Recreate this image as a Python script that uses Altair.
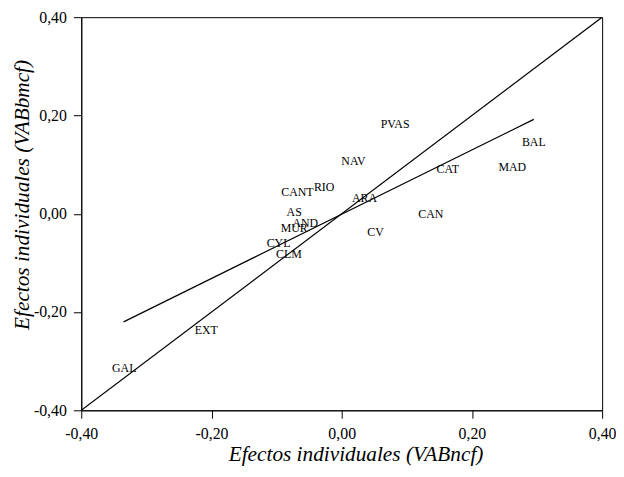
import altair as alt
import pandas as pd

regions = ["PVAS", "BAL", "MAD", "CAT", "NAV", "RIO", "CANT", "ARA", "AS", "CAN",
           "AND", "MUR", "CV", "CYL", "CLM", "EXT", "GAL"]
x_vals = [0.082, 0.295, 0.262, 0.163, 0.018, -0.027, -0.068, 0.035, -0.073, 0.137,
          -0.056, -0.073, 0.052, -0.097, -0.081, -0.208, -0.334]
y_vals = [0.182, 0.146, 0.096, 0.090, 0.108, 0.055, 0.045, 0.031, 0.003, -0.001,
          -0.019, -0.029, -0.037, -0.059, -0.082, -0.237, -0.313]

diag_x = [-0.40, 0.40]
diag_y = [-0.40, 0.40]
reg_x = [-0.335, 0.295]
reg_y = [-0.220, 0.192]

ticks = [-0.40, -0.20, 0.00, 0.20, 0.40]

pts = pd.DataFrame({"region": regions, "x": x_vals, "y": y_vals})
lines = pd.DataFrame({
    "x": diag_x + reg_x,
    "y": diag_y + reg_y,
    "line": ["diag", "diag", "reg", "reg"],
})

font = "Liberation Serif"
lab_expr = "replace(replace(format(datum.value, '.2f'), '.', ','), '\u2212', '-')"

xs = alt.Scale(domain=[-0.4, 0.4], nice=False, zero=False)
ys = alt.Scale(domain=[-0.4, 0.4], nice=False, zero=False)

xaxis = alt.Axis(values=ticks, labelExpr=lab_expr, title="Efectos individuales (VABncf)",
                 grid=False, tickSize=8, labelPadding=7,
                 titleX=277, titleY=51, titleBaseline="alphabetic")
yaxis = alt.Axis(values=ticks, labelExpr=lab_expr, title="Efectos individuales (VABbmcf)",
                 grid=False, tickSize=8, labelPadding=7,
                 titleX=-53, titleY=179, titleBaseline="alphabetic", titleAngle=270)

line_layer = alt.Chart(lines).mark_line(color="black", strokeWidth=1.2, clip=True).encode(
    x=alt.X("x:Q", scale=xs, axis=xaxis),
    y=alt.Y("y:Q", scale=ys, axis=yaxis),
    detail="line:N",
)

text_layer = alt.Chart(pts).mark_text(font=font, fontSize=12, color="black",
                                      align="center", baseline="middle").encode(
    x=alt.X("x:Q", scale=xs),
    y=alt.Y("y:Q", scale=ys),
    text="region:N",
)

chart = (line_layer + text_layer).properties(
    width=526, height=397,
    background="white",
    autosize=alt.AutoSizeParams(type="none"),
    padding={"left": 74, "top": 7, "right": 14, "bottom": 57},
).configure_view(
    stroke="black", strokeWidth=1
).configure_axis(
    labelFont=font, titleFont=font, labelFontSize=16, titleFontSize=21.5,
    titleFontStyle="italic", titleFontWeight="normal", labelColor="black",
    titleColor="black", domainColor="black", tickColor="black", labelFlush=False,
    labelOverlap=False,
)

chart.save("out.html", embed_options={"renderer": "svg", "actions": False})
